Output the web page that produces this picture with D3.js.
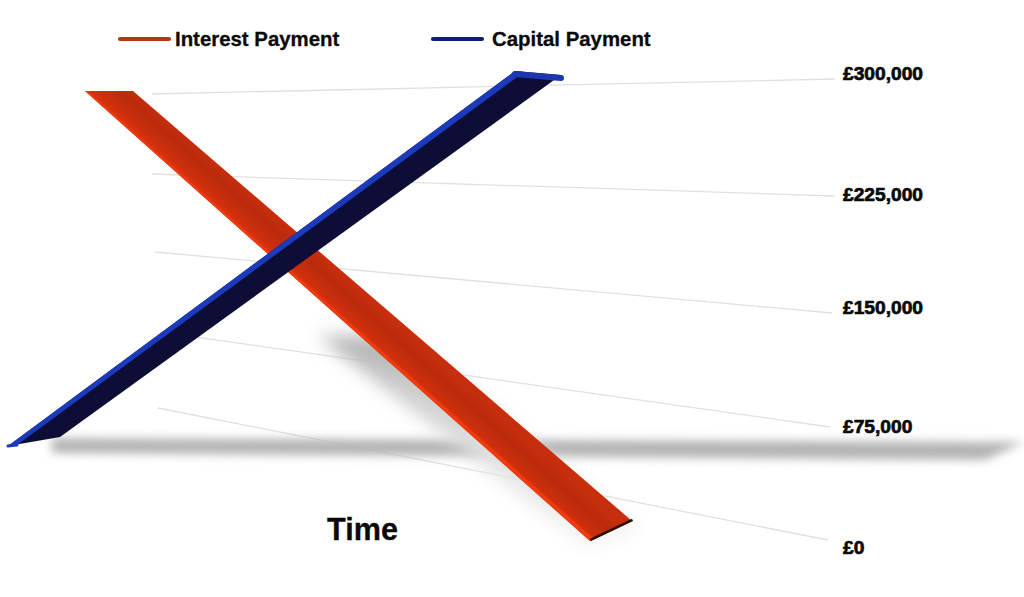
<!DOCTYPE html>
<html>
<head>
<meta charset="utf-8">
<script src="https://cdn.jsdelivr.net/npm/d3@7"></script>
<style>
html,body{margin:0;padding:0;background:#fff;overflow:hidden}
svg{display:block}
text{font-family:"Liberation Sans",Arial,sans-serif;font-weight:bold;fill:#0a0a0a}
</style>
</head>
<body>
<div id="chart"></div>
<script>
// ---- data ----
const seriesNames = ["Interest Payment", "Capital Payment"];
const timeSteps = [0, 1];
const interestValues = [300000, 0];
const capitalValues = [0, 300000];
const tickValues = [0, 75000, 150000, 225000, 300000];
const tickLabels = ["£0", "£75,000", "£150,000", "£225,000", "£300,000"];
const xTitle = "Time";

const W = 1024, H = 597;
const svg = d3.select("#chart").append("svg").attr("width", W).attr("height", H).attr("viewBox", [0,0,W,H]);
const defs = svg.append("defs");

const blur = (id, s) => defs.append("filter").attr("id", id)
  .attr("x","-20%").attr("y","-150%").attr("width","140%").attr("height","400%")
  .append("feGaussianBlur").attr("stdDeviation", s);
blur("blurBand", 5);
blur("blurShadow", 8.5);
blur("soft", 0.5);

const grad = (id, x1,y1,x2,y2, stops) => {
  const g = defs.append("linearGradient").attr("id",id).attr("gradientUnits","userSpaceOnUse")
    .attr("x1",x1).attr("y1",y1).attr("x2",x2).attr("y2",y2);
  stops.forEach(([o,c]) => g.append("stop").attr("offset",o).attr("stop-color",c));
};
// across the width of the red ribbon (normal to its direction)
grad("redFace", 338,316, 360,291.5, [[0,"#da320d"],[0.25,"#cb2e0b"],[0.65,"#ba2c0d"],[1,"#c62d08"]]);
grad("shadowFade", 0,335, 0,540, [[0,"#b0b0b0"],[0.3,"#d0d0d0"],[0.65,"#e4e4e4"],[1,"#f4f4f4"]]);

// ---- scales ----
const xLeft = d3.scaleLinear().domain(tickValues).range([158,160,155,152,152]);
const yLeft = d3.scaleLinear().domain(tickValues).range([408,332,252,174,94]);
const xRight = d3.scaleLinear().domain(tickValues).range([828,830,832,835,835]);
const yRight = d3.scaleLinear().domain(tickValues).range([540,427,313,196,79]);
const yLabels = d3.scaleLinear().domain(tickValues).range([547,426,307,194,73]);

// a ribbon edge: its own time->x and value->y scales
const edge = (t, x, vDomain, y) => ({
  x: d3.scaleLinear().domain(t).range(x),
  y: d3.scaleLinear().domain(vDomain).range(y)
});
const T = d3.extent(timeSteps), V = [0, 300000];

const intFront = edge(T,[85,590],V,[541,91]);
const intBack  = edge(T,[133,632],V,[521,91]);
const intLip   = edge(T,[88,593],V,[538,91]);
const capFront = edge(T,[8,515],V,[446,71]);
const capBack  = edge(T,[60,561],V,[437,75]);
const capLip   = edge(T,[17,524],V,[445,72]);
const shadowA  = edge(T,[318,586],V,[548,336]);
const shadowB  = edge(T,[400,640],V,[530,336]);
// the floor shadow stays flat, so its y also follows time
const bandA    = edge(T,[52,1024],T,[438,442]);
const bandB    = edge(T,[52,985],T,[453,460]);

const zip = (vals) => timeSteps.map((t,i) => ({t, v: vals[i]}));
const interest = zip(interestValues), capital = zip(capitalValues);

const ribbon = (a,b) => d3.area()
  .x0(d => a.x(d.t)).y0(d => a.y(d.v))
  .x1(d => b.x(d.t)).y1(d => b.y(d.v));
const crossLine = (edges, t, v) => d3.line().x(e => e.x(t)).y(e => e.y(v))(edges);

// ---- gridlines ----
svg.append("g").selectAll("line").data(tickValues).join("line")
  .attr("x1", xLeft).attr("y1", yLeft)
  .attr("x2", xRight).attr("y2", yRight)
  .attr("stroke", "#e0e0e0").attr("stroke-width", 1.3);

// ---- shadows ----
const bandArea = d3.area()
  .x0(d => bandA.x(d.t)).y0(d => bandA.y(d.t))
  .x1(d => bandB.x(d.t)).y1(d => bandB.y(d.t));
svg.append("path").datum(capital).attr("d", bandArea)
  .attr("fill","#b4b4b4").attr("filter","url(#blurBand)");

svg.append("path").datum(interest).attr("d", ribbon(shadowA, shadowB))
  .attr("fill","url(#shadowFade)").attr("filter","url(#blurShadow)");

// ---- interest ribbon ----
const gI = svg.append("g").attr("filter","url(#soft)");
gI.append("path").datum(interest).attr("d", ribbon(intFront,intBack)).attr("fill","url(#redFace)");
gI.append("path").datum(interest).attr("d", ribbon(intFront,intLip)).attr("fill","#f23a0f");
gI.append("path").attr("d", crossLine([intFront,intBack], T[1], interestValues[1]))
  .attr("transform","translate(0.5,-1.2)")
  .attr("stroke","#2a0c06").attr("stroke-width",2.6).attr("fill","none");

// ---- capital ribbon ----
const gC = svg.append("g").attr("filter","url(#soft)");
gC.append("path").datum(capital).attr("d", ribbon(capFront,capBack)).attr("fill","#0c1136");
gC.append("path").datum(capital).attr("d", ribbon(capFront,capLip)).attr("fill","#1b3bbc");
gC.append("path").attr("d", crossLine([capFront,capBack], T[1], capitalValues[1]))
  .attr("transform","translate(0,3)")
  .attr("stroke","#1b36b0").attr("stroke-width",6).attr("stroke-linecap","round").attr("fill","none");
gC.append("path").attr("d", crossLine([capFront,capLip], T[0], capitalValues[0]))
  .attr("stroke","#1b3bbc").attr("stroke-width",3).attr("stroke-linecap","round").attr("fill","none");

// ---- value axis ----
const axis = d3.axisRight(yLabels).tickValues(tickValues).tickSize(0).tickPadding(0)
  .tickFormat((d,i) => tickLabels[i]);
const gAxis = svg.append("g").attr("transform","translate(843,0)").call(axis);
gAxis.select(".domain").remove();
gAxis.selectAll("text")
  .attr("font-family","'Liberation Sans',Arial,sans-serif")
  .attr("font-weight","bold").attr("font-size",19.2)
  .attr("stroke","#0a0a0a").attr("stroke-width",0.7)
  .style("fill","#0a0a0a");

// ---- title ----
svg.append("text").attr("x",362.5).attr("y",540).attr("text-anchor","middle")
  .attr("font-size",30.6).attr("stroke","#0a0a0a").attr("stroke-width",0.3).text(xTitle);

// ---- legend ----
const legendColor = d3.scaleOrdinal().domain(seriesNames).range(["#b8331a","#0f1f6e"]);
const legendX = d3.scaleOrdinal().domain(seriesNames).range([118,431]);
const legendTextX = d3.scaleOrdinal().domain(seriesNames).range([175,492]);
const lg = svg.append("g").selectAll("g").data(seriesNames).join("g");
lg.append("line").attr("x1", d => legendX(d)+2).attr("x2", d => legendX(d)+51)
  .attr("y1",39).attr("y2",39).attr("stroke",legendColor).attr("stroke-width",4.2).attr("stroke-linecap","round");
lg.append("text").attr("x",legendTextX).attr("y",46).attr("font-size",20.4)
  .attr("stroke","#0a0a0a").attr("stroke-width",0.3).text(d => d);
</script>
</body>
</html>
